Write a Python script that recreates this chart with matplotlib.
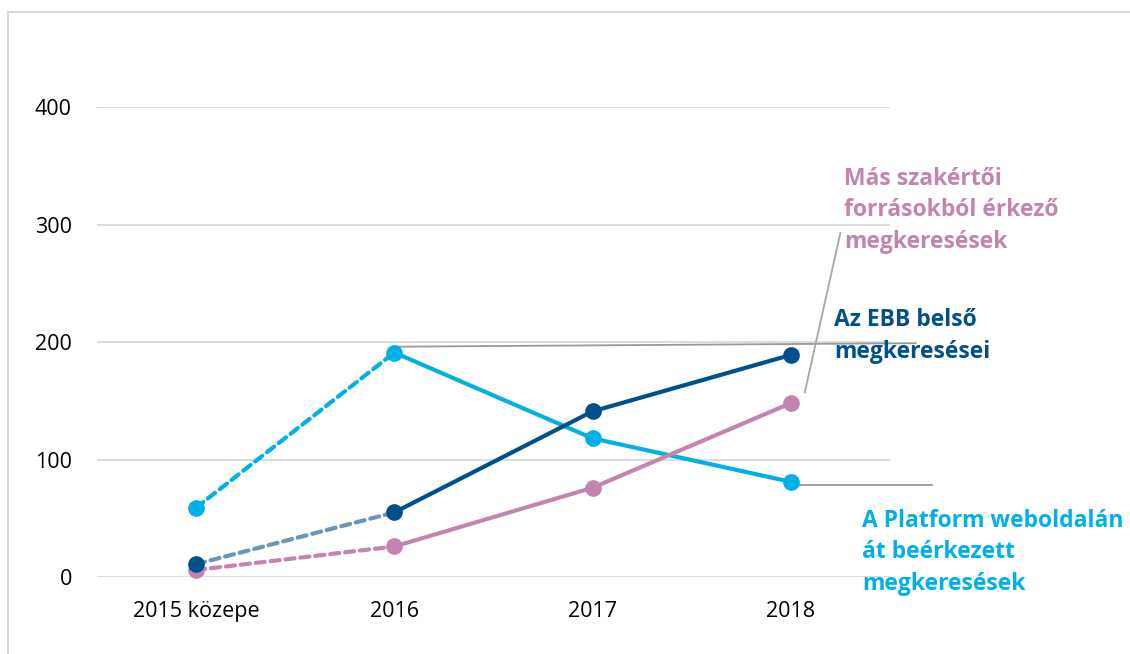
import matplotlib
matplotlib.use('Agg')
import matplotlib.pyplot as plt
from matplotlib.lines import Line2D

plt.rcParams['font.family'] = ['Open Sans', 'DejaVu Sans']

categories = ['2015 közepe', '2016', '2017', '2018']
platform = [59, 191, 118, 81]
ebb = [11, 55, 141, 189]
szakertoi = [6, 26, 76, 148]
yticks = [0, 100, 200, 300, 400]

CYAN = '#00B0E6'
DARK = '#00508C'
DARK_DASH = '#6B95B9'
PINK = '#C385B0'
LEADER = '#A6A6A6'

fig = plt.figure(figsize=(11.3, 6.54), dpi=100)
ax = fig.add_axes([0.0858, 0.1177, 0.7018, 0.7187])
x = list(range(len(categories)))

# dashed first segment, solid rest
for vals, col, dcol in [(platform, CYAN, CYAN), (szakertoi, PINK, PINK), (ebb, DARK, DARK_DASH)]:
    ax.plot(x[:2], vals[:2], color=dcol, lw=3, ls=(0, (2.2, 1.4)), solid_capstyle='round',
            dash_capstyle='round', zorder=3, clip_on=False)
    ax.plot(x[1:], vals[1:], color=col, lw=3, zorder=3, clip_on=False)
    ax.plot(x, vals, 'o', color=col, ms=11, zorder=4, clip_on=False)

ax.set_xlim(-0.5, 3.5)
ax.set_ylim(0, 400)
ax.set_yticks(yticks)
ax.set_xticks(x)
ax.set_xticklabels(categories)
ax.tick_params(length=0, labelsize=15.5, colors='black')
ax.tick_params(axis='y', pad=18)
ax.tick_params(axis='x', pad=17)
ax.yaxis.grid(True, color='#D9D9D9', lw=1.3)
ax.set_axisbelow(True)
for s in ax.spines.values():
    s.set_visible(False)

# leader lines
ax.plot([1, 3.63], [platform[1] + 5, 199], color='#999999', lw=1.3, clip_on=False, zorder=2)
ax.plot([3.07, 3.25], [szakertoi[3] + 9, 293], color=LEADER, lw=1.3, clip_on=False, zorder=2)
ax.plot([3.0, 3.71], [platform[3] - 3, platform[3] - 3], color='#999999', lw=1.3, clip_on=False, zorder=2)

# series labels
lab = dict(fontsize=16.5, fontweight='bold', va='center', ha='left', linespacing=1.42, clip_on=False)
ax.text(3.27, 312, 'Más szakértői\nforrásokból érkező\nmegkeresések', color=PINK, **lab)
ax.text(3.22, 205, 'Az EBB belső\nmegkeresései', color=DARK, **lab)
ax.text(3.36, 21, 'A Platform weboldalán\nát beérkezett\nmegkeresések', color=CYAN, **lab)

# chart frame (left and top edges)
fig.add_artist(Line2D([0.0075, 0.0075], [0, 0.982], color='#D9D9D9', lw=1.5, transform=fig.transFigure))
fig.add_artist(Line2D([0.0075, 1], [0.982, 0.982], color='#D9D9D9', lw=1.5, transform=fig.transFigure))

fig.savefig('out.png', dpi=100)
